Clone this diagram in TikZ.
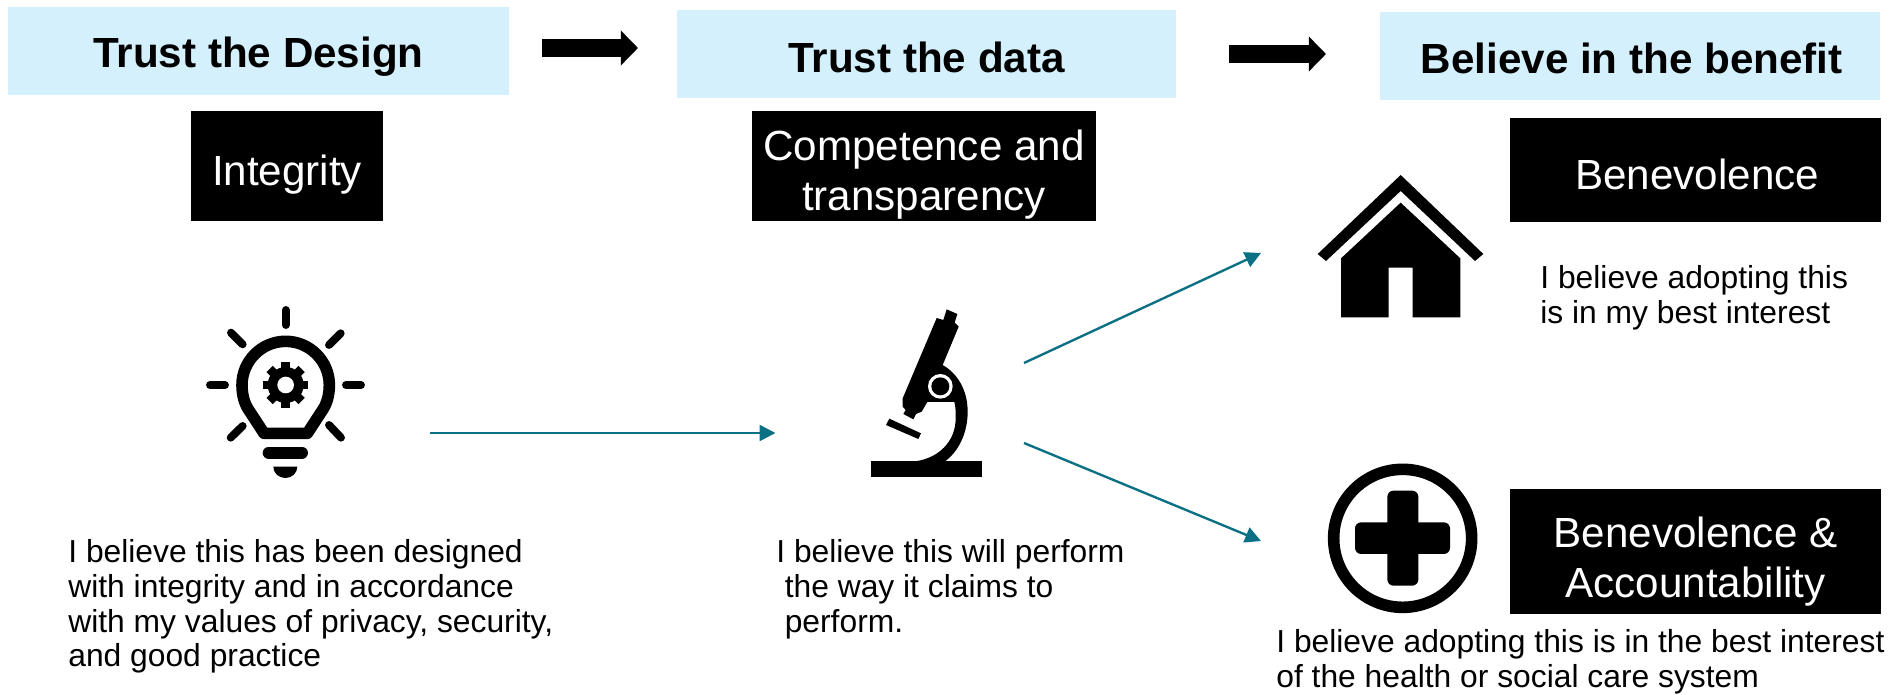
\documentclass[tikz,border=0pt]{standalone}
\usepackage{fontspec}
\setmainfont{Liberation Sans}
\usetikzlibrary{arrows.meta}
\definecolor{headblue}{HTML}{D3F0FC}
\definecolor{flowteal}{HTML}{0C7085}
\tikzset{
	lifted/.style={execute at begin node={\rule{0pt}{#1}}},
	headbox/.style={fill=headblue, minimum height=50pt, inner sep=0pt, font=\fontsize{24}{28.5}\selectfont\bfseries},
	blackbox/.style={fill=black, text=white, align=center, inner sep=0pt, font=\fontsize{24}{28.5}\selectfont},
	notetext/.style={anchor=north west, align=left, inner sep=0pt, font=\fontsize{18.1}{19.7}\selectfont},
	blockarrow/.style={-{Triangle[length=9.8pt,width=19.4pt]}, line width=9.8pt},
	flowarrow/.style={flowteal, -{Triangle[length=9pt,width=9pt]}, line width=1.35pt}
}
\begin{document}
\begin{tikzpicture}[x=0.02cm, y=-0.02cm]
	\useasboundingbox (0,0) rectangle (1893,695);
	% headings
	\node[headbox, lifted=24.4pt, minimum width=285.5pt] (design) at (258.5,51) {Trust the Design};
	\node[headbox, lifted=21pt, minimum width=284.5pt] (data) at (926.5,54) {Trust the data};
	\node[headbox, lifted=20pt, minimum width=284.6pt] (benefit) at (1630,56) {\hspace{2pt}Believe in the benefit};
	% black boxes
	\node[blackbox, lifted=27pt, minimum width=109.5pt, minimum height=63pt] (integrity) at (287,166) {Integrity};
	\node[blackbox, minimum width=196pt, minimum height=63pt] (competence) at (924,166) {\rule{0pt}{27.2pt}Competence and\\transparency};
	\node[blackbox, lifted=22pt, minimum width=211pt, minimum height=59pt] (benevolence) at (1695.5,170) {\hspace{2pt}Benevolence};
	\node[blackbox, minimum width=211pt, minimum height=71pt] (accountability) at (1695.5,551.5) {\rule{0pt}{28.6pt}Benevolence \&\\Accountability};
	% texts
	\node[notetext] (designnote) at (68,539.5) {I believe this has been designed\\with integrity and in accordance\\with my values of privacy, security,\\and good practice};
	\node[notetext] (datanote) at (776,539.5) {I believe this will perform\\\hspace{4.8pt}the way it claims to\\\hspace{4.8pt}perform.};
	\node[notetext] (homenote) at (1540,265.5) {I believe adopting this\\is in my best interest};
	\node[notetext] (caresnote) at (1276,629.5) {I believe adopting this is in the best interest\\of the health or social care system};
	% arrows
	\coordinate (designout) at (542,48);
	\coordinate (datain) at (638,48);
	\coordinate (dataout) at (1229,54);
	\coordinate (benefitin) at (1326,54);
	\draw[blockarrow] (designout) -- (datain);
	\draw[blockarrow] (dataout) -- (benefitin);
	\coordinate (bulbout) at (430,433);
	\coordinate (scopein) at (775.5,433);
	\coordinate (scopeup) at (1024,363);
	\coordinate (housein) at (1261,253);
	\coordinate (scopedown) at (1024,443);
	\coordinate (crossin) at (1261,541);
	\draw[flowarrow] (bulbout) -- (scopein);
	\draw[flowarrow] (scopeup) -- (housein);
	\draw[flowarrow] (scopedown) -- (crossin);
	% bulb
	\begin{scope}[shift={(180,290)}, scale=1/3]
		\draw[line width=4.5pt, line cap=round] (317,60) -- (317,105);
		\draw[line width=4.5pt, line cap=round] (498,285) -- (543,285);
		\draw[line width=4.5pt, line cap=round] (90,285) -- (135,285);
		\draw[line width=4.5pt, line cap=round] (447,165) -- (482,130);
		\draw[line width=4.5pt, line cap=round] (153,128) -- (188,163);
		\draw[line width=4.5pt, line cap=round] (152,443) -- (188,408);
		\draw[line width=4.5pt, line cap=round] (447,405) -- (483,443);
		\draw[line width=6.6pt, line join=round] (252,430) -- (205,358) .. controls (192,338) and (186,312) .. (186,285) .. controls (186,213) and (245,154) .. (317,154) .. controls (389,154) and (448,213) .. (448,285) .. controls (448,312) and (442,338) .. (429,358) -- (382,430) -- cycle;
		\foreach \a in {0,45,...,315}
			\draw[line width=5pt] (317,285) ++(\a:40) -- ++(\a:28);
		\fill[black] (317,285) circle (54);
		\fill[white] (317,285) circle (25);
		\draw[line width=6.8pt, line cap=round] (266,488) -- (366,488);
		\fill (280,530) -- (352,530) .. controls (352,550) and (335,564) .. (316,564) .. controls (297,564) and (280,550) .. (280,530) -- cycle;
	\end{scope}
	% microscope
	\begin{scope}[shift={(840,290)}, scale=1/3]
		\fill (93,514) rectangle (426,562);
		\fill (148,386) -- (243,430) -- (235,447) -- (138,405) -- cycle;
		\fill (320,58) -- (352,72) -- (344,98) -- (356,110) -- (308,225) .. controls (352,250) and (383,300) .. (383,365) .. controls (383,430) and (355,485) .. (315,514) -- (225,514) .. controls (295,505) and (347,455) .. (347,385) .. controls (347,365) and (347,350) .. (343,336) -- (262,336) -- (245,365) -- (228,372) -- (220,388) -- (190,372) -- (197,360) -- (188,350) -- (188,325) -- (290,84) -- (310,90) -- cycle;
		\fill[white] (301,289) circle (37);
		\fill (301,289) circle (27);
	\end{scope}
	% house
	\begin{scope}[shift={(1300,160)}, scale=1/3]
		\fill (302,45) -- (550,282) -- (525,303) -- (302,93) -- (78,303) -- (53,282) -- cycle;
		\fill (302,128) -- (481,295) -- (481,472) -- (338,472) -- (338,323) -- (266,323) -- (266,472) -- (123,472) -- (123,295) -- cycle;
	\end{scope}
	% cross
	\begin{scope}[shift={(1310,450)}, scale=1/3]
		\draw[line width=6.6pt] (278,265) circle (207);
		\fill[rounded corners=3.5pt] (232,122) rectangle (325,407);
		\fill[rounded corners=3.5pt] (135,217) rectangle (420,312);
	\end{scope}
\end{tikzpicture}
\end{document}
